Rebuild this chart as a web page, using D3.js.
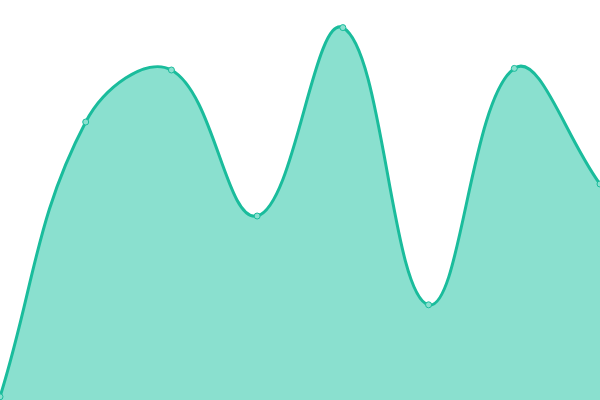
<!DOCTYPE html>
<html>
<head>
<meta charset="utf-8">
<script src="https://cdn.jsdelivr.net/npm/d3@7"></script>
<style>
  body { margin: 0; background: #fff; }
  svg { display: block; }
</style>
</head>
<body>
<div class="chart"></div>
<script>
// Configuration
var width = 600;
var height = 400;
var lineColor = '#1abc9c';
var fillColor = '#8ae0cf';
var tension = 0.4;

// data
var labels = [0, 1, 2, 3, 4, 5, 6, 7];
var values = [0.8, 69.5, 82.5, 46, 93.1, 23.8, 82.9, 54];

var x = d3.scaleLinear()
    .domain([0, labels.length - 1])
    .range([0, width]);

var y = d3.scaleLinear()
    .domain([0, 100])
    .range([height, 0]);

// distance weighted spline curve (tension 0.4), plugged into d3.line / d3.area
function clamp(v, lo, hi) { return Math.max(lo, Math.min(hi, v)); }

function Spline(context) { this._context = context; }
Spline.prototype = {
  areaStart: function() { this._line = 0; },
  areaEnd: function() { this._line = NaN; },
  lineStart: function() { this._x = []; this._y = []; },
  point: function(px, py) { this._x.push(+px); this._y.push(+py); },
  lineEnd: function() {
    var xs = this._x, ys = this._y, n = xs.length, ctx = this._context;
    if (n) {
      this._line ? ctx.lineTo(xs[0], ys[0]) : ctx.moveTo(xs[0], ys[0]);
      if (n === 2) {
        ctx.lineTo(xs[1], ys[1]);
      } else if (n > 2) {
        var cp = [];
        for (var i = 0; i < n; i++) {
          var pi = Math.max(i - 1, 0), ni = Math.min(i + 1, n - 1);
          var d01 = Math.hypot(xs[i] - xs[pi], ys[i] - ys[pi]);
          var d12 = Math.hypot(xs[ni] - xs[i], ys[ni] - ys[i]);
          var s01 = d01 / (d01 + d12), s12 = d12 / (d01 + d12);
          if (isNaN(s01)) s01 = 0;
          if (isNaN(s12)) s12 = 0;
          var fa = tension * s01, fb = tension * s12;
          var dx = xs[ni] - xs[pi], dy = ys[ni] - ys[pi];
          cp.push({
            px: clamp(xs[i] - fa * dx, 0, width), py: clamp(ys[i] - fa * dy, 0, height),
            nx: clamp(xs[i] + fb * dx, 0, width), ny: clamp(ys[i] + fb * dy, 0, height)
          });
        }
        for (var j = 1; j < n; j++) {
          ctx.bezierCurveTo(cp[j - 1].nx, cp[j - 1].ny, cp[j].px, cp[j].py, xs[j], ys[j]);
        }
      }
    }
    if (this._line || (this._line !== 0 && n === 1)) ctx.closePath();
    this._line = 1 - this._line;
    this._x = this._y = null;
  }
};
function curveSpline(context) { return new Spline(context); }

var svg = d3.select(".chart").append("svg")
    .attr("width", width)
    .attr("height", height);

var area = d3.area()
    .x(function(d, i) { return x(labels[i]); })
    .y0(height)
    .y1(function(d) { return y(d); })
    .curve(curveSpline);

var line = d3.line()
    .x(function(d, i) { return x(labels[i]); })
    .y(function(d) { return y(d); })
    .curve(curveSpline);

svg.append("path")
    .datum(values)
    .attr("d", area)
    .style("fill", fillColor);

svg.append("path")
    .datum(values)
    .attr("d", line)
    .style("fill", "none")
    .style("stroke", lineColor)
    .style("stroke-width", 3);

// points
svg.selectAll("circle")
    .data(values)
    .enter().append("circle")
    .attr("cx", function(d, i) { return x(labels[i]); })
    .attr("cy", function(d) { return y(d); })
    .attr("r", 3)
    .style("fill", fillColor)
    .style("stroke", lineColor)
    .style("stroke-width", 1);
</script>
</body>
</html>
